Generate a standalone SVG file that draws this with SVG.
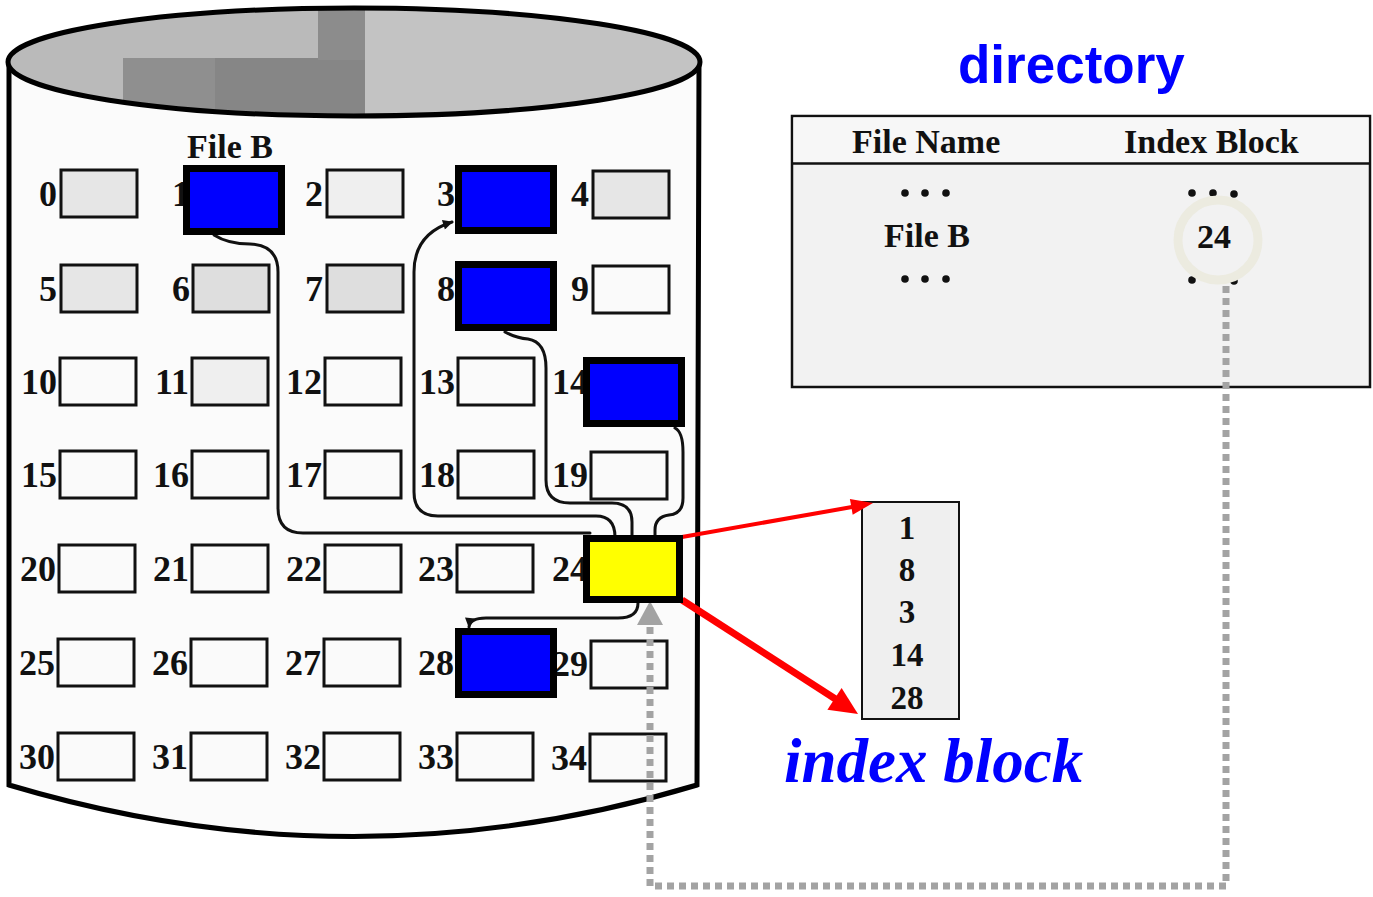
<svg xmlns="http://www.w3.org/2000/svg" width="1373" height="897" viewBox="0 0 1373 897">
  <style>
    .num { font-family: "Liberation Serif", "Times New Roman", serif; font-weight: bold; font-size: 36px; fill: #111; text-anchor: end; }
    .blk { stroke: #111; stroke-width: 3; }
    .plain { fill: #fafafa; }
    .gray1 { fill: #e6e6e6; }
    .gray2 { fill: #dedede; }
    .gray3 { fill: #efefef; }
    .hot { stroke: #000; stroke-width: 7; }
    .data { fill: #0000ff; }
    .idx { fill: #ffff00; }
    .wire { fill: none; stroke: #111; stroke-width: 3; stroke-linecap: round; }
    .hdr { font-family: "Liberation Serif", "Times New Roman", serif; font-weight: bold; font-size: 34px; fill: #111; }
    .ib { font-family: "Liberation Serif", "Times New Roman", serif; font-weight: bold; font-size: 33px; fill: #111; text-anchor: middle; }
  </style>
  <defs>
    <clipPath id="topClip">
      <ellipse cx="354" cy="62" rx="346" ry="54"/>
    </clipPath>
    <marker id="blackHead" viewBox="0 0 10 10" refX="9" refY="5" markerWidth="12" markerHeight="10" markerUnits="userSpaceOnUse" orient="auto">
      <path d="M0,0 L10,5 L0,10 z" fill="#111"/>
    </marker>
  </defs>

  <rect width="1373" height="897" fill="#ffffff"/>

  <!-- disk cylinder -->
  <g id="disk">
    <path d="M9,62 L9,785 Q354,888 697,785 L699,62" fill="#fbfbfb" stroke="#000" stroke-width="5"/>
    <g clip-path="url(#topClip)">
      <rect x="0" y="0" width="720" height="130" fill="#bababa"/>
      <rect x="365" y="0" width="340" height="130" fill="#c3c3c3"/>
      <rect x="123" y="58" width="242" height="70" fill="#8f8f8f"/>
      <rect x="215" y="58" width="150" height="70" fill="#868686"/>
      <rect x="318" y="5" width="47" height="55" fill="#8c8c8c"/>
    </g>
    <ellipse cx="354" cy="62" rx="346" ry="54" fill="none" stroke="#000" stroke-width="5"/>
  </g>

  <!-- disk blocks -->
  <g id="block-0"><rect class="blk gray1" x="61" y="170" width="76" height="47"/><text class="num" x="57" y="206">0</text></g>
  <g id="block-1-label"><text class="num" x="190" y="206">1</text></g>
  <g id="block-2"><rect class="blk gray3" x="327" y="170" width="76" height="47"/><text class="num" x="323" y="206">2</text></g>
  <g id="block-3-label"><text class="num" x="455" y="206">3</text></g>
  <g id="block-4"><rect class="blk gray1" x="593" y="171" width="76" height="47"/><text class="num" x="589" y="206">4</text></g>

  <g id="block-5"><rect class="blk gray1" x="61" y="265" width="76" height="47"/><text class="num" x="57" y="301">5</text></g>
  <g id="block-6"><rect class="blk gray2" x="193" y="265" width="76" height="47"/><text class="num" x="190" y="301">6</text></g>
  <g id="block-7"><rect class="blk gray2" x="327" y="265" width="76" height="47"/><text class="num" x="323" y="301">7</text></g>
  <g id="block-8-label"><text class="num" x="455" y="301">8</text></g>
  <g id="block-9"><rect class="blk plain" x="593" y="266" width="76" height="47"/><text class="num" x="589" y="301">9</text></g>

  <g id="block-10"><rect class="blk plain" x="60" y="358" width="76" height="47"/><text class="num" x="57" y="394">10</text></g>
  <g id="block-11"><rect class="blk gray3" x="192" y="358" width="76" height="47"/><text class="num" x="189" y="394">11</text></g>
  <g id="block-12"><rect class="blk plain" x="325" y="358" width="76" height="47"/><text class="num" x="322" y="394">12</text></g>
  <g id="block-13"><rect class="blk plain" x="458" y="358" width="76" height="47"/><text class="num" x="455" y="394">13</text></g>
  <g id="block-14-label"><text class="num" x="588" y="394">14</text></g>

  <g id="block-15"><rect class="blk plain" x="60" y="451" width="76" height="47"/><text class="num" x="57" y="487">15</text></g>
  <g id="block-16"><rect class="blk plain" x="192" y="451" width="76" height="47"/><text class="num" x="189" y="487">16</text></g>
  <g id="block-17"><rect class="blk plain" x="325" y="451" width="76" height="47"/><text class="num" x="322" y="487">17</text></g>
  <g id="block-18"><rect class="blk plain" x="458" y="451" width="76" height="47"/><text class="num" x="455" y="487">18</text></g>
  <g id="block-19"><rect class="blk plain" x="591" y="452" width="76" height="47"/><text class="num" x="588" y="487">19</text></g>

  <g id="block-20"><rect class="blk plain" x="59" y="545" width="76" height="47"/><text class="num" x="56" y="581">20</text></g>
  <g id="block-21"><rect class="blk plain" x="192" y="545" width="76" height="47"/><text class="num" x="189" y="581">21</text></g>
  <g id="block-22"><rect class="blk plain" x="325" y="545" width="76" height="47"/><text class="num" x="322" y="581">22</text></g>
  <g id="block-23"><rect class="blk plain" x="457" y="545" width="76" height="47"/><text class="num" x="454" y="581">23</text></g>
  <g id="block-24-label"><text class="num" x="588" y="581">24</text></g>

  <g id="block-25"><rect class="blk plain" x="58" y="639" width="76" height="47"/><text class="num" x="55" y="675">25</text></g>
  <g id="block-26"><rect class="blk plain" x="191" y="639" width="76" height="47"/><text class="num" x="188" y="675">26</text></g>
  <g id="block-27"><rect class="blk plain" x="324" y="639" width="76" height="47"/><text class="num" x="321" y="675">27</text></g>
  <g id="block-28-label"><text class="num" x="454" y="675">28</text></g>
  <g id="block-29"><rect class="blk plain" x="591" y="641" width="76" height="47"/><text class="num" x="588" y="676">29</text></g>

  <g id="block-30"><rect class="blk plain" x="58" y="733" width="76" height="47"/><text class="num" x="55" y="769">30</text></g>
  <g id="block-31"><rect class="blk plain" x="191" y="733" width="76" height="47"/><text class="num" x="188" y="769">31</text></g>
  <g id="block-32"><rect class="blk plain" x="324" y="733" width="76" height="47"/><text class="num" x="321" y="769">32</text></g>
  <g id="block-33"><rect class="blk plain" x="457" y="733" width="76" height="47"/><text class="num" x="454" y="769">33</text></g>
  <g id="block-34"><rect class="blk plain" x="590" y="734" width="76" height="47"/><text class="num" x="587" y="770">34</text></g>

  <!-- directory table -->
  <g id="directory">
    <text x="958" y="83" font-family="Liberation Sans, Arial, sans-serif" font-weight="bold" font-size="53" fill="#0000ff">directory</text>
    <rect x="792" y="116" width="578" height="271" fill="#f2f2f2" stroke="#111" stroke-width="2.5"/>
    <rect x="793.5" y="117.5" width="575" height="45" fill="#f7f7f7"/>
    <line x1="792" y1="163.5" x2="1370" y2="163.5" stroke="#111" stroke-width="2.5"/>
    <text class="hdr" x="852" y="153">File Name</text>
    <text class="hdr" x="1124" y="153">Index Block</text>
    <g fill="#111">
      <circle cx="905" cy="193" r="3.8"/><circle cx="925" cy="193" r="3.8"/><circle cx="946" cy="193" r="3.8"/>
      <circle cx="1192" cy="193" r="3.8"/><circle cx="1213" cy="193" r="3.8"/><circle cx="1234" cy="194" r="3.8"/>
      <circle cx="905" cy="279" r="3.8"/><circle cx="925" cy="279" r="3.8"/><circle cx="946" cy="279" r="3.8"/>
      <circle cx="1192" cy="280" r="3.8"/><circle cx="1213" cy="280" r="3.8"/><circle cx="1234" cy="281" r="3.8"/>
    </g>
    <text class="hdr" x="884" y="247">File B</text>
    <text class="hdr" x="1197" y="248">24</text>
    <circle cx="1218" cy="240" r="40" fill="none" stroke="#ecebe0" stroke-width="9"/>
  </g>

  <!-- index block contents -->
  <g id="index-block">
    <rect x="862" y="502" width="97" height="217" fill="#efefef" stroke="#111" stroke-width="2"/>
    <text class="ib" x="907" y="539">1</text>
    <text class="ib" x="907" y="581">8</text>
    <text class="ib" x="907" y="623">3</text>
    <text class="ib" x="907" y="666">14</text>
    <text class="ib" x="907" y="709">28</text>
    <text x="784" y="782" font-family="Liberation Serif, Times New Roman, serif" font-weight="bold" font-style="italic" font-size="63" fill="#0000ff">index block</text>
  </g>

  <!-- connectors -->
  <g id="connectors">
    <!-- pointers from the index block to each data block -->
    <path class="wire" d="M214,235 Q228,244 250,244 Q278,245 278,272 L278,508 Q278,533 303,533 L590,533"/>
    <path class="wire" d="M615,537 Q615,516 596,516 L438,516 Q414,516 414,492 L414,272 Q414,234 452,222" marker-end="url(#blackHead)"/>
    <path class="wire" d="M505,332 Q516,338 528,339 Q546,342 546,368 L546,480 Q546,503 570,503 L612,503 Q632,503 632,522 L632,537"/>
    <path class="wire" d="M675,428 Q683,432 683,452 L683,498 Q683,514 669,515 Q655,517 655,530 L655,537"/>
    <path class="wire" d="M638,603 Q638,618 618,618 L486,618 Q470,618 469,627" marker-end="url(#blackHead)"/>

    <!-- red arrows to the index block -->
    <line x1="682" y1="537" x2="852" y2="507" stroke="#ff0000" stroke-width="4"/>
    <polygon points="873,503 852.7,514.7 849.9,499" fill="#ff0000"/>
    <line x1="682" y1="600" x2="837" y2="700" stroke="#ff0000" stroke-width="7"/>
    <polygon points="858,714 827.4,709.7 841.6,687.9" fill="#ff0000"/>

    <!-- dotted reference from the directory entry to block 24 -->
    <path d="M1226,286 L1226,886 L650,886 L650,624" fill="none" stroke="#a3a3a3" stroke-width="7" stroke-dasharray="7 5"/>
    <polygon points="650,601 637,625 663,625" fill="#a3a3a3"/>
  </g>

  <!-- blocks belonging to File B -->
  <g id="block-1">
    <text x="187" y="158" font-family="Liberation Serif, Times New Roman, serif" font-weight="bold" font-size="34" fill="#111">File B</text>
    <rect class="hot data" x="186.5" y="168.5" width="95" height="63"/>
  </g>
  <g id="block-3"><rect class="hot data" x="458.5" y="168.5" width="95" height="62"/></g>
  <g id="block-8"><rect class="hot data" x="458.5" y="264.5" width="95" height="63"/></g>
  <g id="block-14"><rect class="hot data" x="586.5" y="360.5" width="95" height="63"/></g>
  <g id="block-24"><rect class="hot idx" x="586.5" y="538.5" width="93" height="61"/></g>
  <g id="block-28"><rect class="hot data" x="458.5" y="631.5" width="95" height="63"/></g>
</svg>
